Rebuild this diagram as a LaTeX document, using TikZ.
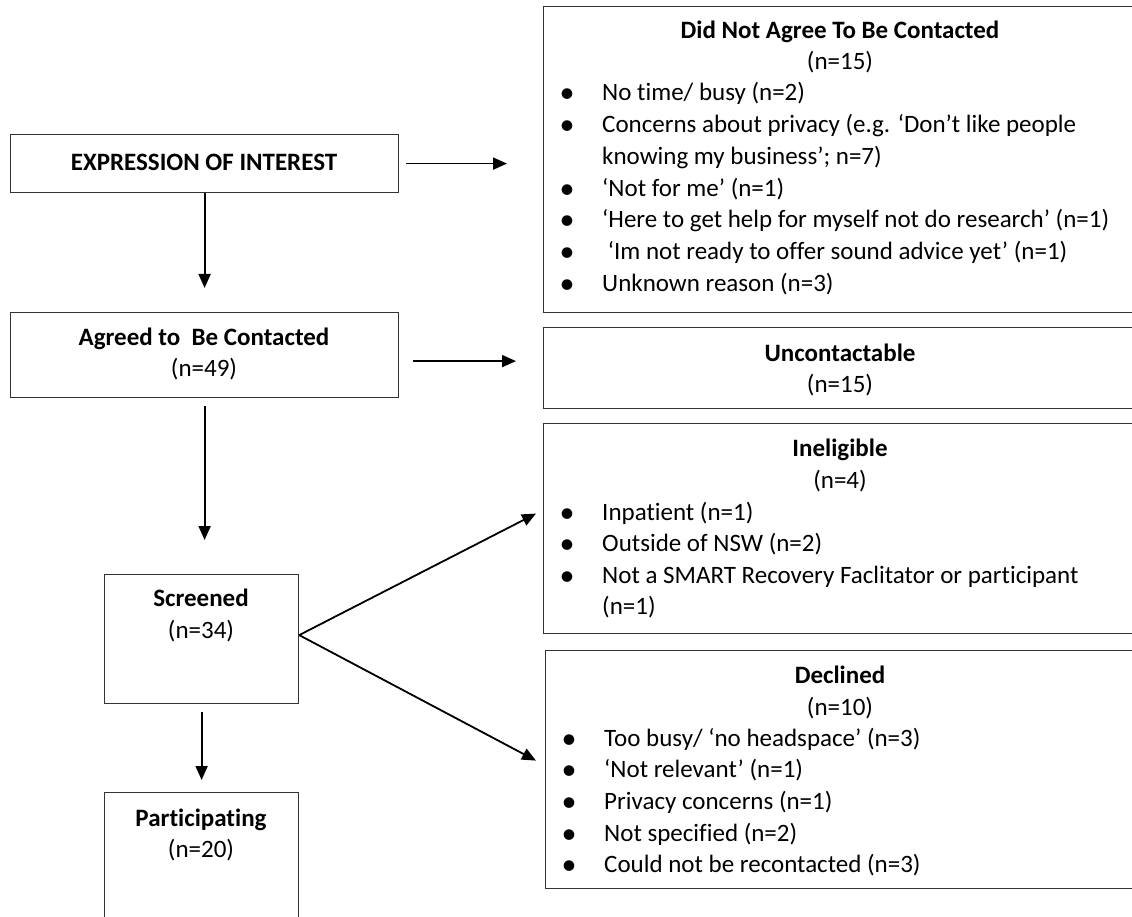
\documentclass[tikz,border=0pt]{standalone}
\usepackage{fontspec}
\setmainfont[Ligatures=NoCommon]{Carlito}
\usetikzlibrary{arrows.meta}
\tikzset{
  box/.style={draw=black!80, line width=1.2pt, anchor=north west, inner sep=0pt},
  arr/.style={line width=1.8pt, -{Triangle[length=14pt,width=12pt]}},
  txt/.style={inner sep=0pt, anchor=base, font=\fontsize{25}{31}\selectfont},
  hd/.style={txt, font=\fontsize{25}{31}\selectfont\bfseries},
  dot/.style={txt, font=\fontsize{30}{31}\selectfont, yshift=-2pt},
}
\begin{document}
\begin{tikzpicture}[x=1pt,y=-1pt]
	\useasboundingbox[fill=white] (0,0) rectangle (1132,917);
	
	% left column
	\node[box, minimum width=388pt, minimum height=58pt] (expr) at (10,134) {};
	\node[box, minimum width=388pt, minimum height=85pt] (agreed) at (10,312) {};
	\node[box, minimum width=194pt, minimum height=129pt] (screened) at (104,574) {};
	\node[box, minimum width=194pt, minimum height=143pt] (partic) at (104,792) {};
	
	\node[hd] (expr-t) at (204,171) {EXPRESSION OF INTEREST};
	\node[hd] (agreed-t) at (204,345) {Agreed to\ \ Be Contacted};
	\node[txt] (agreed-n) at (204,376) {(n=49)};
	\node[hd] (screened-t) at (201,606) {Screened};
	\node[txt] (screened-n) at (201,638) {(n=34)};
	\node[hd] (partic-t) at (201,826) {Participating};
	\node[txt] (partic-n) at (201,857) {(n=20)};
	
	% right column
	\node[box, minimum width=610pt, minimum height=306pt] (dna) at (543,6) {};
	\node[box, minimum width=610pt, minimum height=81pt] (unc) at (543,327) {};
	\node[box, minimum width=610pt, minimum height=210pt] (inel) at (543,423) {};
	\node[box, minimum width=608pt, minimum height=238pt] (decl) at (545,650) {};
	
	\node[hd] (dna-t) at (840,39) {Did Not Agree To Be Contacted};
	\node[txt] (dna-n) at (840,70) {(n=15)};
	\foreach \t [count=\i from 0] in {No time/ busy (n=2),
		Concerns about privacy (e.g. ‘Don’t like people,
		knowing my business’; n=7),
		‘Not for me’ (n=1),
		‘Here to get help for myself not do research’ (n=1),
		~‘Im not ready to offer sound advice yet’ (n=1),
		Unknown reason (n=3)}
		\node[txt, anchor=base west] (dna-\i) at (602,{101+31.7*\i}) {\t};
	\foreach \i in {0,1,3,4,5,6}
		\node[dot] (dna-b\i) at (567,{101+31.7*\i}) {\textbullet};
	
	\node[hd] (unc-t) at (840,361) {Uncontactable};
	\node[txt] (unc-n) at (840,392) {(n=15)};
	
	\node[hd] (inel-t) at (840,456) {Ineligible};
	\node[txt] (inel-n) at (840,488) {(n=4)};
	\foreach \t [count=\i from 0] in {Inpatient (n=1),
		Outside of NSW (n=2),
		Not a SMART Recovery Faclitator or participant,
		(n=1)}
		\node[txt, anchor=base west] (inel-\i) at (602,{520+31.5*\i}) {\t};
	\foreach \i in {0,1,2}
		\node[dot] (inel-b\i) at (567,{520+31.5*\i}) {\textbullet};
	
	\node[hd] (decl-t) at (840,683) {Declined};
	\node[txt] (decl-n) at (840,715) {(n=10)};
	\foreach \t [count=\i from 0] in {Too busy/ ‘no headspace’ (n=3),
		‘Not relevant’ (n=1),
		Privacy concerns (n=1),
		Not specified (n=2),
		Could not be recontacted (n=3)}
		\node[txt, anchor=base west] (decl-\i) at (604,{746+31.7*\i}) {\t};
	\foreach \i in {0,...,4}
		\node[dot] (decl-b\i) at (569,{746+31.7*\i}) {\textbullet};
	
	% arrows
	\draw[arr, shorten <=7pt, shorten >=36pt] (expr.east) -- (expr.east -| dna.west);
	\draw[arr, shorten <=14pt, shorten >=27pt] ([yshift=-6pt]agreed.east) -- ([yshift=-6pt]agreed.east -| unc.west);
	\draw[arr, shorten >=24pt] (expr.south) -- (agreed.north);
	\draw[arr, shorten <=8pt, shorten >=34pt] (agreed.south) -- (agreed.south |- screened.north);
	\draw[arr, shorten <=8pt, shorten >=12pt] (screened.south) -- (partic.north);
	\draw[arr] ([yshift=4pt]screened.east) -- ([xshift=-7pt,yshift=15pt]inel.west);
	\draw[arr] ([yshift=4pt]screened.east) -- ([xshift=-9pt,yshift=9pt]decl.west);
\end{tikzpicture}
\end{document}
